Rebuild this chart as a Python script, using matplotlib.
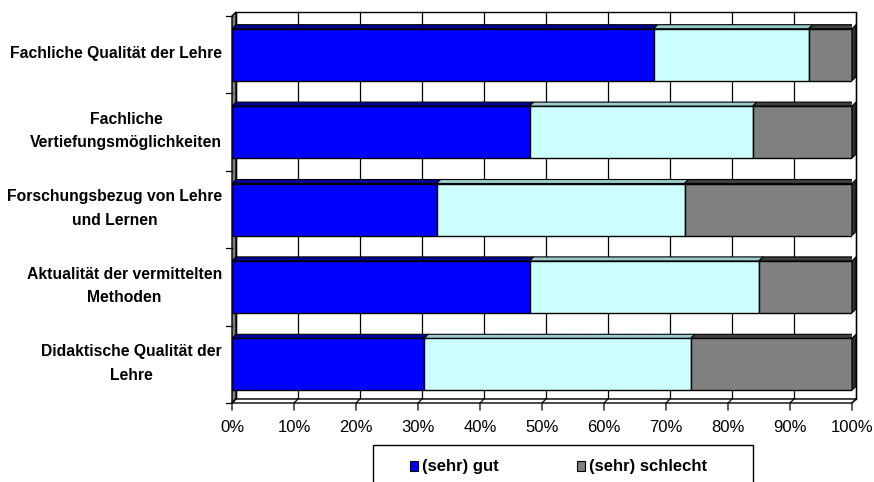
import matplotlib.pyplot as plt
from matplotlib.patches import Polygon, Rectangle
import numpy as np

plt.rcParams['font.family'] = ['Liberation Sans', 'DejaVu Sans']

# data (shares in %)
categories = ["Fachliche Qualität der Lehre",
              "Fachliche\nVertiefungsmöglichkeiten",
              "Forschungsbezug von Lehre\nund Lernen",
              "Aktualität der vermittelten\nMethoden",
              "Didaktische Qualität der\nLehre"]
gut = [68, 48, 33, 48, 31]
mittel = [25, 36, 40, 37, 43]
schlecht = [7, 16, 27, 15, 26]
series_names = ["(sehr) gut", "teils/teils", "(sehr) schlecht"]
ticks = np.arange(0, 101, 10)
tick_labels = [f"{t}%" for t in ticks]

front = ["#0000FF", "#CCFFFF", "#808080"]
top = ["#00009A", "#99CCCC", "#404040"]
side = ["#000080", "#7FAFAF", "#303030"]

W, H = 874, 482
fig = plt.figure(figsize=(W / 100, H / 100), dpi=100)
ax_l, ax_r, ax_t, ax_b = 232, 852, 16, 403
ax = fig.add_axes([ax_l / W, 1 - ax_b / H, (ax_r - ax_l) / W, (ax_b - ax_t) / H])
ax.set_xlim(0, 100)
n = len(categories)
ax.set_ylim(-0.5, n - 0.5)
ax.axis('off')

# pixel -> data helpers
px_x = (ax_r - ax_l) / 100
px_y = (ax_b - ax_t) / n
dx = 4 / px_x
dy = 4 / px_y
y0, y1 = -0.5, n - 0.5

# back wall + gridlines
ax.add_patch(Rectangle((dx, y0 + dy), 100, n, facecolor='white', edgecolor='black',
                       lw=1, clip_on=False, zorder=0))
for t in ticks:
    ax.plot([t + dx, t + dx], [y0 + dy, y1 + dy], color='black', lw=0.9, clip_on=False, zorder=0.5)
# left wall
ax.add_patch(Polygon([(0, y0), (dx, y0 + dy), (dx, y1 + dy), (0, y1)], closed=True,
                     facecolor='#808080', edgecolor='black', lw=1, clip_on=False, zorder=1))
# floor with ticks
ax.add_patch(Polygon([(0, y0), (100, y0), (100 + dx, y0 + dy), (dx, y0 + dy)], closed=True,
                     facecolor='white', edgecolor='black', lw=1, clip_on=False, zorder=1))
for t, lab in zip(ticks, tick_labels):
    ax.plot([t + dx, t, t], [y0 + dy, y0, y0 - 7 / px_y], color='black', lw=0.9, clip_on=False, zorder=1.5)
    ax.text(t, y0 - 24 / px_y, lab, ha='center', va='center', fontsize=12)
# category ticks on left axis
for k in range(n + 1):
    yy = y0 + k
    ax.plot([0, -6 / px_x], [yy, yy], color='black', lw=0.9, clip_on=False)

# bars
bar_h = 52 / px_y
ypos = np.arange(n)[::-1]
values = [gut, mittel, schlecht]
for i in range(n):
    yc = ypos[i]
    yb, yt = yc - bar_h / 2, yc + bar_h / 2
    left = 0
    for s in range(3):
        w = values[s][i]
        ax.add_patch(Rectangle((left, yb), w, bar_h, facecolor=front[s], edgecolor='black',
                               lw=1, zorder=3))
        ax.add_patch(Polygon([(left, yt), (left + w, yt), (left + w + dx, yt + dy), (left + dx, yt + dy)],
                             closed=True, facecolor=top[s], edgecolor='black', lw=0.8, zorder=3))
        left += w
    ax.add_patch(Polygon([(left, yb), (left, yt), (left + dx, yt + dy), (left + dx, yb + dy)],
                         closed=True, facecolor=side[2], edgecolor='black', lw=0.8, zorder=3, clip_on=False))
    ax.text(-10 / px_x, yc + 1 / px_y, categories[i], ha='right', va='center', ma='center',
            fontsize=11.3, fontweight='bold', linespacing=1.7)

# legend (box runs off the bottom edge)
fig.patches.append(Rectangle((373 / W, -0.05), 380 / W, 1 - 445 / H + 0.05, transform=fig.transFigure,
                             facecolor='white', edgecolor='black', lw=1))
for name, col, xl in [(series_names[0], front[0], 410), (series_names[2], front[2], 577)]:
    fig.patches.append(Rectangle((xl / W, 1 - 471 / H), 8 / W, 10 / H, transform=fig.transFigure,
                                 facecolor=col, edgecolor='black', lw=0.8))
    fig.text((xl + 12) / W, 1 - 466 / H, name, ha='left', va='center', fontsize=12, fontweight='bold')

fig.savefig('out.png', dpi=100)
